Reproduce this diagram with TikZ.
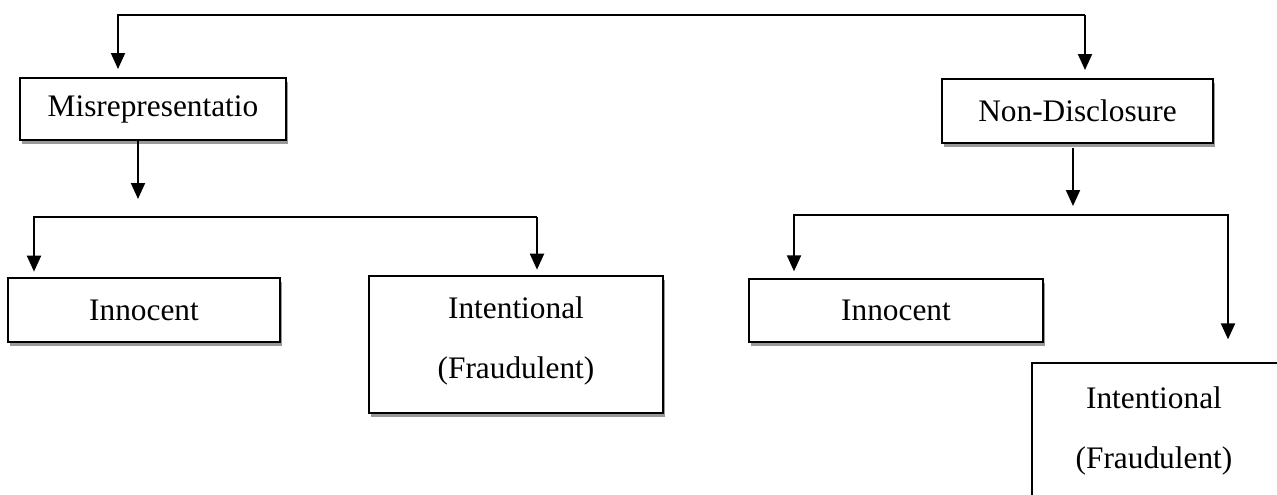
\documentclass[tikz,border=0pt]{standalone}
\usepackage{fontspec}
\setmainfont{Liberation Serif}
\usetikzlibrary{arrows.meta,shadows}
\begin{document}
\begin{tikzpicture}[x=0.75pt,y=-0.75pt,
  every node/.style={font=\fontsize{23.5pt}{28pt}\selectfont},
  box/.style={draw,line width=1.5pt,fill=white,rectangle,inner sep=0pt,
    drop shadow={shadow xshift=1.5pt,shadow yshift=-3pt,fill=black!40,opacity=1}},
  txt/.style={align=center,inner sep=0pt},
  conn/.style={line width=1.5pt},
  arr/.style={conn,-{Triangle[width=10.5pt,length=12pt]}},
]
\useasboundingbox (0,0) rectangle (1277,494);
\clip (0,0) rectangle (1277,494);

% boxes
\node[box,minimum width=199.5pt,minimum height=46.5pt] (mis) at (153,109) {Misrepresentatio};
\node[box,minimum width=203.25pt,minimum height=48pt] (nd) at (1077.5,111) {Non-Disclosure};
\node[box,minimum width=204pt,minimum height=48pt] (innL) at (144,310) {Innocent};
\node[box,minimum width=220.5pt,minimum height=102.75pt] (intL) at (516,344.5) {};
\node[txt] (intLtxt) at (516,341) {Intentional\\[17pt](Fraudulent)};
\node[box,minimum width=220.5pt,minimum height=47.25pt] (innR) at (896,310.5) {Innocent};
\node[box,minimum width=225pt,minimum height=150pt] (intR) at (1182,463) {};
\node[txt] (intRtxt) at (1154,431) {Intentional\\[17pt](Fraudulent)};

% top split
\coordinate (tl) at (118,15);
\coordinate (tr) at (1085,15);
\draw[arr,shorten >=6pt] (tr) -- (tl) -- (tl |- mis.north);
\draw[arr,shorten >=6pt] (tr) -- (tr |- nd.north);

% left branch
\coordinate (ml) at (138,199);
\draw[arr] (mis.south -| ml) -- (ml);
\coordinate (l1) at (34,217);
\coordinate (l2) at (537,217);
\draw[arr,shorten >=4pt] (l2) -- (l1) -- (l1 |- innL.north);
\draw[arr,shorten >=4pt] (l2) -- (l2 |- intL.north);

% right branch
\coordinate (mr) at (1073,206);
\draw[arr] (nd.south -| mr) ++(0,4) -- (mr);
\coordinate (r1) at (794,215);
\coordinate (r2) at (1228,215);
\draw[arr,shorten >=5pt] (r2) -- (r1) -- (r1 |- innR.north);
\draw[arr,shorten >=17pt] (r1) -- (r2) -- (r2 |- intR.north);
\end{tikzpicture}
\end{document}
